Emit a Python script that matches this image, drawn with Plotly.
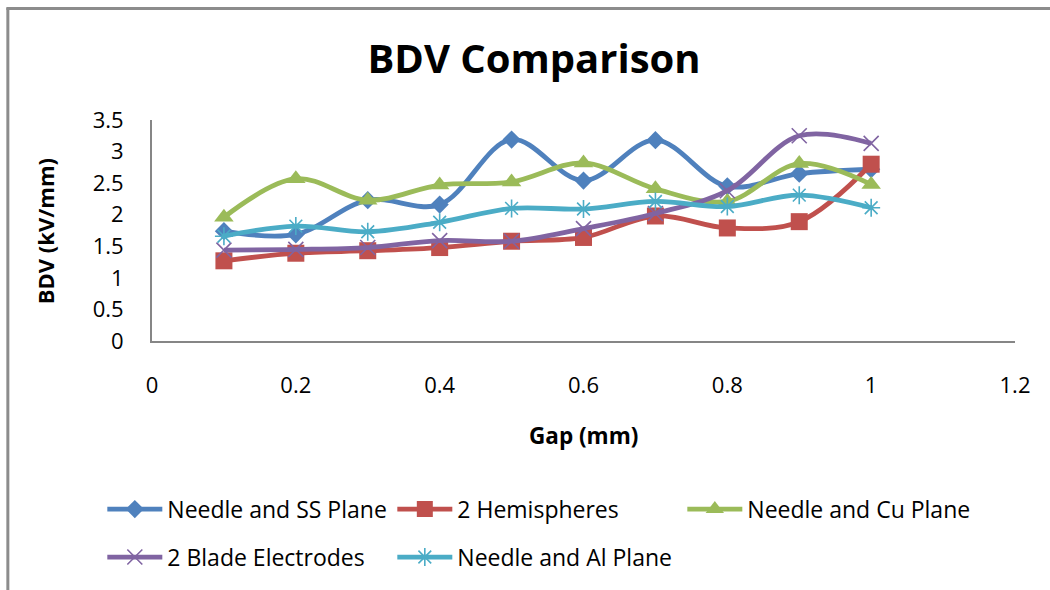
import plotly.graph_objects as go

# Gap settings (mm) and measured breakdown voltage per mm for each electrode pair
gap_mm = [0.1, 0.2, 0.3, 0.4, 0.5, 0.6, 0.7, 0.8, 0.9, 1.0]

series_names = [
    "Needle and SS Plane",
    "2 Hemispheres",
    "Needle and Cu Plane",
    "2 Blade Electrodes",
    "Needle and Al Plane",
]

needle_ss = [1.74, 1.69, 2.23, 2.16, 3.19, 2.54, 3.18, 2.45, 2.65, 2.72]
hemispheres = [1.27, 1.39, 1.43, 1.48, 1.58, 1.64, 1.98, 1.79, 1.89, 2.80]
needle_cu = [1.96, 2.57, 2.23, 2.47, 2.52, 2.82, 2.41, 2.21, 2.81, 2.48]
blade = [1.44, 1.45, 1.48, 1.59, 1.58, 1.78, 2.02, 2.38, 3.25, 3.13]
needle_al = [1.66, 1.82, 1.73, 1.88, 2.10, 2.09, 2.21, 2.13, 2.31, 2.11]

x_ticks = [0, 0.2, 0.4, 0.6, 0.8, 1, 1.2]
y_ticks = [0, 0.5, 1, 1.5, 2, 2.5, 3, 3.5]

# Page geometry (pixels)
W, H = 1050, 590
PL, PR, PT, PB = 151.7, 1015.0, 119.5, 341.7
PW, PH = PR - PL, PB - PT


def px_x(px):
    return (px - PL) / PW


def px_y(py):
    return (PB - py) / PH


FONT = "Open Sans"
AXIS_GREY = "#868686"

styles = [
    dict(color="#4F81BD", symbol="diamond", size=14, legend="legend"),
    dict(color="#C0504D", symbol="square", size=17, legend="legend"),
    dict(color="#9BBB59", symbol="triangle-up", size=17, legend="legend"),
    dict(color="#8064A2", symbol="x-thin-open", size=15, legend="legend2"),
    dict(color="#4BACC6", symbol="asterisk-open", size=15, legend="legend2"),
]
values = [needle_ss, hemispheres, needle_cu, blade, needle_al]

fig = go.Figure()
for name, vals, st in zip(series_names, values, styles):
    open_sym = st["symbol"].endswith("open")
    fig.add_trace(
        go.Scatter(
            x=gap_mm,
            y=vals,
            name=name,
            mode="lines+markers",
            line=dict(color=st["color"], width=4.8, shape="spline", smoothing=1.0),
            marker=dict(
                symbol=st["symbol"],
                size=st["size"],
                color=st["color"],
                line=dict(color=st["color"], width=1.6 if open_sym else 0),
            ),
            legend=st["legend"],
        )
    )

# Legend: wide line samples, three columns per row
ITEM_W = 55
legend_common = dict(
    orientation="h",
    xanchor="left",
    yanchor="middle",
    itemwidth=ITEM_W,
    entrywidthmode="pixels",
    entrywidth=290 - (ITEM_W + 10) - 5,
    font=dict(family=FONT, size=23, color="#000000"),
    bgcolor="rgba(0,0,0,0)",
    traceorder="normal",
)

fig.update_layout(
    width=W,
    height=H,
    margin=dict(l=PL, r=W - PR, t=PT, b=H - PB, pad=0),
    paper_bgcolor="white",
    plot_bgcolor="white",
    font=dict(family=FONT, size=22, color="#000000"),
    title=dict(
        text="<b>BDV Comparison</b>",
        font=dict(family=FONT, size=40, color="#000000"),
        x=534 / W,
        xanchor="center",
        y=1 - 59 / H,
        yanchor="middle",
    ),
    xaxis=dict(
        range=[0, 1.2],
        tickvals=x_ticks,
        ticktext=[f"{v:g}" for v in x_ticks],
        showgrid=False,
        zeroline=False,
        showline=True,
        linecolor=AXIS_GREY,
        linewidth=2,
        ticks="",
        ticklabelstandoff=24,
        tickfont=dict(family=FONT, size=22),
    ),
    yaxis=dict(
        range=[0, 3.5],
        tickvals=y_ticks,
        ticktext=[f"{v:g}" for v in y_ticks],
        showgrid=False,
        zeroline=False,
        showline=True,
        linecolor=AXIS_GREY,
        linewidth=2,
        ticks="",
        ticklabelstandoff=22,
        tickfont=dict(family=FONT, size=22),
    ),
    legend=dict(legend_common, x=px_x(167 - (ITEM_W + 10)), y=px_y(509)),
    legend2=dict(legend_common, x=px_x(167 - (ITEM_W + 10)), y=px_y(557)),
    annotations=[
        dict(
            text="<b>Gap (mm)</b>",
            xref="paper", yref="paper",
            x=px_x(583), y=px_y(437),
            xanchor="center", yanchor="middle",
            showarrow=False,
            font=dict(family=FONT, size=22.5),
        ),
        dict(
            text="<b>BDV (kV/mm)</b>",
            xref="paper", yref="paper",
            x=px_x(45), y=px_y(231),
            xanchor="center", yanchor="middle",
            textangle=-90,
            showarrow=False,
            font=dict(family=FONT, size=22),
        ),
    ],
    shapes=[
        # chart-area frame (left and top edges)
        dict(type="line", xref="paper", yref="paper",
             x0=px_x(7.5), x1=px_x(7.5), y0=px_y(600), y1=px_y(7),
             line=dict(color="#8C8C8C", width=3)),
        dict(type="line", xref="paper", yref="paper",
             x0=px_x(6), x1=px_x(1060), y0=px_y(7.5), y1=px_y(7.5),
             line=dict(color="#8C8C8C", width=3)),
    ],
    showlegend=True,
)

fig.write_html("out.html")
